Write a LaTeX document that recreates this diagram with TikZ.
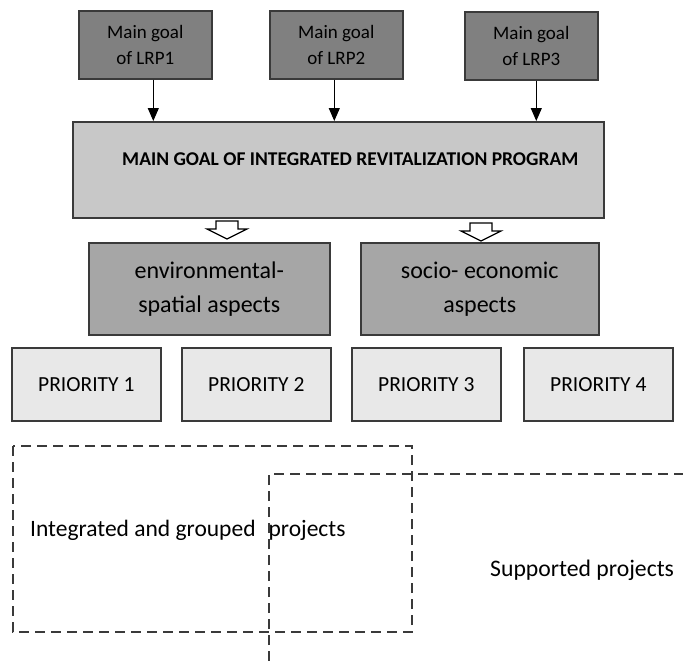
\documentclass[tikz,border=0pt]{standalone}
\usepackage{fontspec}
\setmainfont{Carlito}
\usetikzlibrary{arrows.meta}

\definecolor{lrpfill}{RGB}{128,128,128}
\definecolor{mainfill}{RGB}{200,200,200}
\definecolor{aspfill}{RGB}{166,166,166}
\definecolor{prifill}{RGB}{232,232,232}
\definecolor{edgegray}{RGB}{58,58,58}

\begin{document}
\begin{tikzpicture}[x=1pt,y=1pt,yscale=-1,xscale=1,
    box/.style={draw=edgegray, line width=1.6, inner sep=0, align=center, anchor=north west},
    goalbox/.style={box, fill=lrpfill, minimum width=133, minimum height=68, font=\fontsize{19}{26}\selectfont},
    aspbox/.style={box, fill=aspfill, minimum height=92, font=\fontsize{24}{34}\selectfont},
    pribox/.style={box, fill=prifill, minimum width=149, minimum height=73, font=\fontsize{21.5}{25}\selectfont},
    goalarrow/.style={line width=1.1, -{Triangle[width=11,length=13]}},
    hollowarrow/.style={draw=black, fill=white, line width=1.2},
    dashline/.style={draw=edgegray, line width=2.1, dash pattern=on 10pt off 6pt}]
\useasboundingbox (0,0) rectangle (683,661);

%Goal boxes of the local programs
    \node[goalbox] (lrp1) at (78,10) {Main goal\\of LRP1};
    \node[goalbox] (lrp2) at (269,10) {Main goal\\of LRP2};
    \node[goalbox] (lrp3) at (464,11) {Main goal\\of LRP3};
%Main goal
    \node[box, fill=mainfill, minimum width=531, minimum height=96, text depth=21, font=\bfseries\fontsize{19.5}{22}\selectfont] (main) at (72,121) {\hspace{24pt}MAIN GOAL OF INTEGRATED REVITALIZATION PROGRAM};

%Straight Lines
    \draw[goalarrow] ([xshift=8]lrp1.south) -- ([xshift=8]lrp1.south |- main.north);
    \draw[goalarrow] ([xshift=-2]lrp2.south) -- ([xshift=-2]lrp2.south |- main.north);
    \draw[goalarrow] ([xshift=5]lrp3.south) -- ([xshift=5]lrp3.south |- main.north);

%Aspects
    \node[aspbox, minimum width=241] (env) at (88,242) {environmental-\\spatial aspects};
    \node[aspbox, minimum width=238] (socio) at (360,242) {socio- economic\\aspects};

%Hollow arrows
    \coordinate (ha1) at (227,221);
    \coordinate (ha2) at (481,223);
    \draw[hollowarrow] (ha1) ++(-11,0) -- ++(22,0) -- ++(0,8) -- ++(9,0) -- ++(-20,10) -- ++(-20,-10) -- ++(9,0) -- cycle;
    \draw[hollowarrow] (ha2) ++(-11,0) -- ++(22,0) -- ++(0,8) -- ++(9,0) -- ++(-20,10) -- ++(-20,-10) -- ++(9,0) -- cycle;

%Priorities
    \node[pribox] (pri1) at (11,347) {PRIORITY 1};
    \node[pribox] (pri2) at (181,347) {PRIORITY 2};
    \node[pribox] (pri3) at (351,347) {PRIORITY 3};
    \node[pribox] (pri4) at (523,347) {PRIORITY 4};

%Dashed frames
    \draw[dashline] (13,446) rectangle (412,632);
    \draw[dashline] (269,661) -- (269,474) -- (683,474);

% Text Node
    \node[anchor=west, inner sep=0, font=\fontsize{23.5}{28}\selectfont] (grouped) at (30,530) {Integrated and grouped\hspace{13pt}projects};
% Text Node
    \node[anchor=west, inner sep=0, font=\fontsize{23.7}{28}\selectfont] (supported) at (490,570) {Supported projects};

\end{tikzpicture}
\end{document}
